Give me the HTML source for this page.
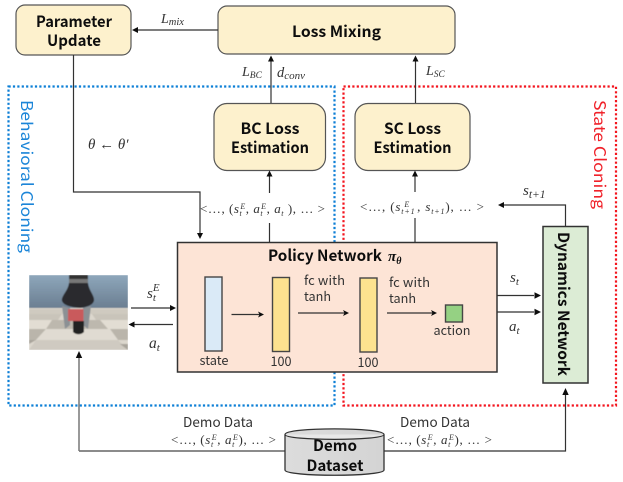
<!DOCTYPE html>
<html><head><meta charset="utf-8">
<style>
html,body{margin:0;padding:0;background:#fff;width:623px;height:482px;overflow:hidden}
svg{display:block}
.b{font-family:"Liberation Sans","Noto Sans CJK KR",sans-serif;font-family:"Noto Sans CJK KR","Liberation Sans",sans-serif;font-weight:bold;fill:#111;text-anchor:middle}
.t{font-family:"Noto Sans CJK KR","Liberation Sans",sans-serif;fill:#333;text-anchor:middle}
.m{font-family:"Liberation Serif",serif;font-style:italic;fill:#333}
.n{font-family:"Liberation Serif",serif;fill:#333}
.box{fill:#fdf1cd;stroke:#555;stroke-width:1.2}
.l{fill:none;stroke:#333;stroke-width:1.2}
</style></head><body>
<svg width="623" height="482" viewBox="0 0 623 482" xmlns="http://www.w3.org/2000/svg">
<defs>
<filter id="s" x="-5%" y="-5%" width="110%" height="110%"><feGaussianBlur stdDeviation="0.35"/></filter>
<filter id="i" x="0" y="0" width="100%" height="100%"><feGaussianBlur stdDeviation="0.6"/></filter>
<linearGradient id="sky" x1="0" y1="0" x2="0" y2="1"><stop offset="0" stop-color="#8ea7bb"/><stop offset="1" stop-color="#6a7d90"/></linearGradient>
<linearGradient id="cy" x1="0" y1="0" x2="1" y2="0"><stop offset="0" stop-color="#dcdcdc"/><stop offset="1" stop-color="#d4d4d4"/></linearGradient>
</defs>
<rect width="623" height="482" fill="#fff"/>
<g filter="url(#s)">
<!-- dotted regions -->
<rect x="8.5" y="86.5" width="326" height="319" fill="none" stroke="#0f7fd6" stroke-width="2.2" stroke-dasharray="2.2 2.2"/>
<rect x="343.5" y="86.5" width="272.5" height="319" fill="none" stroke="#f3141e" stroke-width="2.2" stroke-dasharray="2.2 2.2"/>
<text transform="translate(21,100) rotate(90)" font-family="'Noto Sans CJK KR','Liberation Sans',sans-serif" font-size="16" fill="#1a85d8" textLength="153" lengthAdjust="spacingAndGlyphs">Behavioral Cloning</text>
<text transform="translate(594,100) rotate(90)" font-family="'Noto Sans CJK KR','Liberation Sans',sans-serif" font-size="16" fill="#f0242c" textLength="109" lengthAdjust="spacingAndGlyphs">State Cloning</text>

<!-- top boxes -->
<rect class="box" x="16" y="5" width="115" height="50" rx="9"/>
<text class="b" x="74" y="27" font-size="15.5" textLength="76" lengthAdjust="spacingAndGlyphs">Parameter</text>
<text class="b" x="74" y="46" font-size="15.5" textLength="54" lengthAdjust="spacingAndGlyphs">Update</text>
<rect class="box" x="218" y="6" width="237" height="48" rx="9"/>
<text class="b" x="336.500" y="37" font-size="15.5" textLength="89" lengthAdjust="spacingAndGlyphs">Loss Mixing</text>
<rect class="box" x="214" y="103.500" width="111.500" height="67" rx="13"/>
<text class="b" x="270" y="134" font-size="15.5" textLength="59" lengthAdjust="spacingAndGlyphs">BC Loss</text>
<text class="b" x="270" y="153" font-size="15.5" textLength="78" lengthAdjust="spacingAndGlyphs">Estimation</text>
<rect class="box" x="355" y="103.500" width="115" height="67" rx="13"/>
<text class="b" x="412.500" y="134" font-size="15.5" textLength="57" lengthAdjust="spacingAndGlyphs">SC Loss</text>
<text class="b" x="412.500" y="153" font-size="15.5" textLength="78" lengthAdjust="spacingAndGlyphs">Estimation</text>

<!-- connectors top -->
<path class="l" d="M218 30H137"/><path d="M132 30l6-3v6z" fill="#111"/>
<path class="l" d="M271 103V60"/><path d="M271 55.500l-3 6h6z" fill="#111"/>
<path class="l" d="M415.500 103V60"/><path d="M415.500 55.500l-3 6h6z" fill="#111"/>
<path class="l" d="M73.500 55V192H200V234"/><path d="M200 239l-3-6h6z" fill="#111"/>
<path class="l" d="M269.500 242V223M269.500 193V176"/><path d="M269.500 170.500l-3 6h6z" fill="#111"/>
<path class="l" d="M415 242V218M415 192V176"/><path d="M415 170.500l-3 6h6z" fill="#111"/>
<path class="l" d="M565.500 226V205H504"/><path d="M498 205l6-3v6z" fill="#111"/>

<!-- labels -->
<text class="m" x="161" y="23" font-size="14">L<tspan font-size="10.500" dy="2">mix</tspan></text>
<text class="m" x="242" y="76" font-size="14">L<tspan font-size="9.500" dy="2">BC</tspan></text>
<text class="m" x="277" y="77" font-size="14.500">d<tspan font-size="11" dy="2">conv</tspan></text>
<text class="m" x="426" y="75" font-size="14">L<tspan font-size="9.500" dy="2">SC</tspan></text>
<text class="m" x="88" y="149" font-size="15">θ <tspan font-style="normal">←</tspan> θ′</text>
<text class="n" x="200" y="213" font-size="13" textLength="125" lengthAdjust="spacing">&lt;…, (<tspan font-style="italic">s</tspan><tspan font-size="8" font-style="italic" dy="3">t</tspan><tspan font-size="8" font-style="italic" dy="-7" dx="-2">E</tspan><tspan dy="4">, </tspan><tspan font-style="italic">a</tspan><tspan font-size="8" font-style="italic" dy="3">t</tspan><tspan font-size="8" font-style="italic" dy="-7" dx="-2">E</tspan><tspan dy="4">, </tspan><tspan font-style="italic">a</tspan><tspan font-size="8" font-style="italic" dy="3">t</tspan><tspan dy="-3"> ), … &gt;</tspan></text>
<text class="n" x="360" y="211" font-size="13" textLength="124" lengthAdjust="spacing">&lt;…, (<tspan font-style="italic">s</tspan><tspan font-size="8" font-style="italic" dy="3">t+1</tspan><tspan font-size="8" font-style="italic" dy="-7" dx="-11">E</tspan><tspan dy="4" dx="7">, </tspan><tspan font-style="italic">s</tspan><tspan font-size="8" font-style="italic" dy="3">t+1</tspan><tspan dy="-3">), … &gt;</tspan></text>
<text class="m" x="523" y="195" font-size="15">s<tspan font-size="11.500" dy="3">t+1</tspan></text>

<!-- policy -->
<rect x="177.500" y="242.500" width="319.500" height="129.500" fill="#fde4d6" stroke="#333" stroke-width="1.500"/>
<text class="b" x="325" y="261" font-size="15.5" textLength="114" lengthAdjust="spacingAndGlyphs">Policy Network</text>
<text x="388" y="261" font-family="'Liberation Serif',serif" font-style="italic" font-weight="bold" font-size="15" fill="#111">π<tspan font-size="10" dy="3">θ</tspan></text>
<rect x="205" y="277" width="17" height="74" fill="#daeaf7" stroke="#444" stroke-width="1.400"/>
<rect x="272.500" y="277.500" width="17" height="74" fill="#fde28f" stroke="#444" stroke-width="1.400"/>
<rect x="360" y="278" width="17" height="74" fill="#fde28f" stroke="#444" stroke-width="1.400"/>
<rect x="445.500" y="305" width="17" height="17" fill="#95d183" stroke="#444" stroke-width="1.400"/>
<text class="t" x="214" y="365" font-size="13" textLength="29" lengthAdjust="spacingAndGlyphs">state</text>
<text class="t" x="281" y="366" font-size="13" textLength="21" lengthAdjust="spacingAndGlyphs">100</text>
<text class="t" x="368" y="367" font-size="13" textLength="21" lengthAdjust="spacingAndGlyphs">100</text>
<text class="t" x="452" y="335" font-size="13" textLength="37" lengthAdjust="spacingAndGlyphs">action</text>
<text class="t" x="304" y="285" font-size="13" style="text-anchor:start" textLength="41" lengthAdjust="spacing">fc with</text>
<text class="t" x="304" y="301" font-size="13" style="text-anchor:start" textLength="27" lengthAdjust="spacingAndGlyphs">tanh</text>
<text class="t" x="389" y="287" font-size="13" style="text-anchor:start" textLength="41" lengthAdjust="spacing">fc with</text>
<text class="t" x="389" y="303" font-size="13" style="text-anchor:start" textLength="27" lengthAdjust="spacingAndGlyphs">tanh</text>
<path class="l" d="M231.500 314.500H260"/><path d="M264 314.500l-6-3 1.500 3-1.500 3z" fill="#111"/>
<path class="l" d="M298 313H345"/><path d="M349 313l-6-3 1.500 3-1.500 3z" fill="#111"/>
<path class="l" d="M387 313H433"/><path d="M437 313l-6-3 1.500 3-1.500 3z" fill="#111"/>

<!-- left image -->
<g filter="url(#i)">
<rect x="29" y="275" width="99" height="34" fill="url(#sky)"/>
<rect x="29" y="308" width="99" height="42" fill="#dcd7cd"/>
<path d="M29 309H128V314H29Z" fill="#cfcac0"/>
<path d="M29 314H62L58 320H29ZM128 314H92L96 320H128Z" fill="#c9c4ba"/>
<path d="M29 320H56L48 329H29ZM128 320H100L108 329H128Z" fill="#e2ddd3"/>
<path d="M29 329H46L36 340H29ZM128 329H110L118 340H128Z" fill="#bab5ab"/>
<path d="M52 320H100L108 329H46Z" fill="#bdb8ae"/>
<path d="M46 329H110L118 340H36Z" fill="#e0dbd2"/>
<path d="M36 340H118L128 350H29Z" fill="#cfcac1"/>
<path d="M29 344L36 340H29ZM128 350L120 344H128V350Z" fill="#a9a49b"/>
<rect x="69" y="275" width="19" height="4" fill="#333"/>
<rect x="69" y="279" width="19" height="4" fill="#777"/>
<path d="M69 283H88C89 291 95 296 94 301C92 306 86 307 80 308C72 307 64 306 62 301C61 296 68 291 69 283Z" fill="#2c2c2e"/>
<path d="M62 306L70 308V325L65 329ZM91 306L83 308V325L88 329Z" fill="#8b9094"/>
<path d="M73 321H84V332C81 335 76 335 73 332Z" fill="#232323"/>
<rect x="68" y="309" width="15.500" height="12" fill="#c95a5c"/>
</g>
<path class="l" d="M131 308H170"/><path d="M176 308l-6-3v6z" fill="#111"/>
<path class="l" d="M173 324.500H134"/><path d="M128.500 324.500l6-3v6z" fill="#111"/>
<text class="m" x="147" y="298" font-size="15">s<tspan font-size="11" dy="3">t</tspan><tspan font-size="11" dy="-10" dx="-3">E</tspan></text>
<text class="m" x="149" y="348" font-size="15.500">a<tspan font-size="11" dy="3">t</tspan></text>

<!-- s_t a_t -->
<path class="l" d="M497 295.500H534"/><path d="M541 295.500l-6.500-3.200v6.400z" fill="#111"/>
<path class="l" d="M497 312H534"/><path d="M541 312l-6.500-3.200v6.400z" fill="#111"/>
<text class="m" x="510" y="282" font-size="15">s<tspan font-size="11" dy="3">t</tspan></text>
<text class="m" x="509" y="331" font-size="15">a<tspan font-size="11" dy="3">t</tspan></text>

<!-- dynamics -->
<rect x="543" y="226.500" width="45" height="156.500" fill="#dcecd5" stroke="#333" stroke-width="1.500"/>
<text class="b" transform="translate(558,304) rotate(90)" font-size="15.5" textLength="144" lengthAdjust="spacingAndGlyphs">Dynamics Network</text>

<!-- bottom -->
<path d="M79 451H285" fill="none" stroke="#444" stroke-width="1.200"/>
<path d="M79 451V358" fill="none" stroke="#777" stroke-width="1.500"/><path d="M79 351l-3.200 7h6.400z" fill="#111"/>
<path class="l" d="M384 451H565.500V394"/><path d="M565.500 388l-3.200 7h6.400z" fill="#111"/>
<text class="t" x="218" y="427" font-size="13.500" textLength="70" lengthAdjust="spacing">Demo Data</text>
<text class="t" x="435" y="427" font-size="13.500" textLength="70" lengthAdjust="spacing">Demo Data</text>
<text class="n" x="171" y="444" font-size="13" textLength="105" lengthAdjust="spacing">&lt;…, (<tspan font-style="italic">s</tspan><tspan font-size="8" font-style="italic" dy="3">t</tspan><tspan font-size="8" font-style="italic" dy="-7" dx="-2">E</tspan><tspan dy="4">, </tspan><tspan font-style="italic">a</tspan><tspan font-size="8" font-style="italic" dy="3">t</tspan><tspan font-size="8" font-style="italic" dy="-7" dx="-2">E</tspan><tspan dy="4">), … &gt;</tspan></text>
<text class="n" x="387" y="444" font-size="13" textLength="105" lengthAdjust="spacing">&lt;…, (<tspan font-style="italic">s</tspan><tspan font-size="8" font-style="italic" dy="3">t</tspan><tspan font-size="8" font-style="italic" dy="-7" dx="-2">E</tspan><tspan dy="4">, </tspan><tspan font-style="italic">a</tspan><tspan font-size="8" font-style="italic" dy="3">t</tspan><tspan font-size="8" font-style="italic" dy="-7" dx="-2">E</tspan><tspan dy="4">), … &gt;</tspan></text>

<!-- cylinder -->
<path d="M285 434.500C285 427 384 427 384 434.500V470C384 477 285 477 285 470Z" fill="url(#cy)" stroke="#333" stroke-width="1.300"/>
<path d="M285 434.500C285 441 384 441 384 434.500" fill="#e8e8e8" stroke="#333" stroke-width="1.200"/>
<text class="b" x="335" y="451" font-size="15.5" textLength="44" lengthAdjust="spacingAndGlyphs">Demo</text>
<text class="b" x="335" y="471" font-size="15.5" textLength="57" lengthAdjust="spacingAndGlyphs">Dataset</text>
</g>
</svg>
</body></html>
